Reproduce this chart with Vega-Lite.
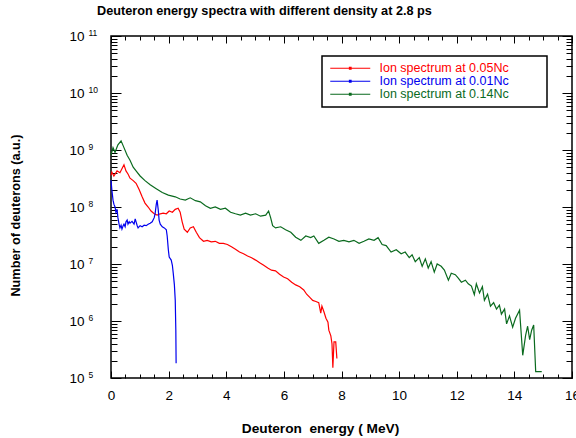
{
  "$schema": "https://vega.github.io/schema/vega-lite/v6.json",
  "autosize": {"type": "none"},
  "width": 461,
  "height": 342,
  "padding": {"left": 111, "top": 36, "right": 4, "bottom": 60},
  "background": "white",
  "title": {"text": "Deuteron energy spectra with different density at 2.8 ps", "anchor": "start", "frame": "group", "dx": -14, "dy": -6, "fontSize": 12.7, "fontWeight": "bold", "font": "Liberation Sans", "color": "black"},
  "config": {
    "font": "Liberation Sans",
    "view": {"stroke": "black", "strokeWidth": 1.5},
    "axis": {"domain": false, "grid": false, "tickColor": "black", "labelColor": "black", "titleColor": "black", "tickWidth": 1, "labelOverlap": false, "labelFlush": false, "labelBound": false}
  },
  "data": {"values": [
    {"series":"0.14Nc","energy":0.00,"count":8.1e8},{"series":"0.14Nc","energy":0.07,"count":1.10e9},{"series":"0.14Nc","energy":0.14,"count":9.1e8},{"series":"0.14Nc","energy":0.24,"count":1.23e9},{"series":"0.14Nc","energy":0.35,"count":1.45e9},{"series":"0.14Nc","energy":0.45,"count":1.10e9},{"series":"0.14Nc","energy":0.56,"count":8.1e8},{"series":"0.14Nc","energy":0.66,"count":6.6e8},{"series":"0.14Nc","energy":0.77,"count":5.0e8},{"series":"0.14Nc","energy":0.87,"count":4.3e8},{"series":"0.14Nc","energy":1.01,"count":3.5e8},{"series":"0.14Nc","energy":1.18,"count":2.9e8},{"series":"0.14Nc","energy":1.36,"count":2.45e8},{"series":"0.14Nc","energy":1.57,"count":2.1e8},{"series":"0.14Nc","energy":1.78,"count":1.8e8},{"series":"0.14Nc","energy":1.99,"count":1.62e8},{"series":"0.14Nc","energy":2.23,"count":1.51e8},{"series":"0.14Nc","energy":2.40,"count":1.38e8},{"series":"0.14Nc","energy":2.58,"count":1.32e8},{"series":"0.14Nc","energy":2.75,"count":1.45e8},{"series":"0.14Nc","energy":2.93,"count":1.29e8},{"series":"0.14Nc","energy":3.10,"count":1.23e8},{"series":"0.14Nc","energy":3.28,"count":1.05e8},{"series":"0.14Nc","energy":3.45,"count":9.5e7},{"series":"0.14Nc","energy":3.62,"count":1.0e8},{"series":"0.14Nc","energy":3.80,"count":9.1e7},{"series":"0.14Nc","energy":3.97,"count":9.5e7},{"series":"0.14Nc","energy":4.15,"count":8.1e7},{"series":"0.14Nc","energy":4.32,"count":7.6e7},{"series":"0.14Nc","energy":4.49,"count":7.2e7},{"series":"0.14Nc","energy":4.67,"count":7.8e7},{"series":"0.14Nc","energy":4.84,"count":7.2e7},{"series":"0.14Nc","energy":5.02,"count":7.6e7},{"series":"0.14Nc","energy":5.19,"count":6.9e7},{"series":"0.14Nc","energy":5.37,"count":7.2e7},{"series":"0.14Nc","energy":5.47,"count":8.5e7},{"series":"0.14Nc","energy":5.54,"count":6.5e7},{"series":"0.14Nc","energy":5.61,"count":4.7e7},{"series":"0.14Nc","energy":5.71,"count":4.3e7},{"series":"0.14Nc","energy":5.89,"count":4.5e7},{"series":"0.14Nc","energy":6.06,"count":4.0e7},{"series":"0.14Nc","energy":6.24,"count":3.6e7},{"series":"0.14Nc","energy":6.41,"count":2.95e7},{"series":"0.14Nc","energy":6.59,"count":2.6e7},{"series":"0.14Nc","energy":6.76,"count":3.1e7},{"series":"0.14Nc","energy":6.93,"count":2.9e7},{"series":"0.14Nc","energy":7.04,"count":3.1e7},{"series":"0.14Nc","energy":7.21,"count":2.3e7},{"series":"0.14Nc","energy":7.39,"count":2.6e7},{"series":"0.14Nc","energy":7.56,"count":2.95e7},{"series":"0.14Nc","energy":7.74,"count":2.75e7},{"series":"0.14Nc","energy":7.91,"count":2.5e7},{"series":"0.14Nc","energy":8.08,"count":2.6e7},{"series":"0.14Nc","energy":8.26,"count":2.45e7},{"series":"0.14Nc","energy":8.43,"count":2.6e7},{"series":"0.14Nc","energy":8.61,"count":2.3e7},{"series":"0.14Nc","energy":8.78,"count":2.5e7},{"series":"0.14Nc","energy":8.95,"count":2.75e7},{"series":"0.14Nc","energy":9.13,"count":2.6e7},{"series":"0.14Nc","energy":9.27,"count":2.9e7},{"series":"0.14Nc","energy":9.41,"count":2.2e7},{"series":"0.14Nc","energy":9.55,"count":2.1e7},{"series":"0.14Nc","energy":9.72,"count":1.62e7},{"series":"0.14Nc","energy":9.90,"count":1.78e7},{"series":"0.14Nc","energy":10.07,"count":1.51e7},{"series":"0.14Nc","energy":10.21,"count":1.62e7},{"series":"0.14Nc","energy":10.35,"count":1.29e7},{"series":"0.14Nc","energy":10.45,"count":1.45e7},{"series":"0.14Nc","energy":10.56,"count":1.10e7},{"series":"0.14Nc","energy":10.70,"count":1.29e7},{"series":"0.14Nc","energy":10.80,"count":9.1e6},{"series":"0.14Nc","energy":10.91,"count":1.23e7},{"series":"0.14Nc","energy":11.01,"count":8.5e6},{"series":"0.14Nc","energy":11.11,"count":1.10e7},{"series":"0.14Nc","energy":11.22,"count":7.2e6},{"series":"0.14Nc","energy":11.32,"count":1.0e7},{"series":"0.14Nc","energy":11.46,"count":9.1e6},{"series":"0.14Nc","energy":11.57,"count":7.8e6},{"series":"0.14Nc","energy":11.71,"count":5.2e6},{"series":"0.14Nc","energy":11.81,"count":6.9e6},{"series":"0.14Nc","energy":11.95,"count":6.5e6},{"series":"0.14Nc","energy":12.06,"count":5.6e6},{"series":"0.14Nc","energy":12.16,"count":4.8e6},{"series":"0.14Nc","energy":12.30,"count":5.2e6},{"series":"0.14Nc","energy":12.40,"count":4.5e6},{"series":"0.14Nc","energy":12.51,"count":4.1e6},{"series":"0.14Nc","energy":12.61,"count":2.9e6},{"series":"0.14Nc","energy":12.68,"count":4.5e6},{"series":"0.14Nc","energy":12.79,"count":3.1e6},{"series":"0.14Nc","energy":12.89,"count":4.0e6},{"series":"0.14Nc","energy":12.96,"count":2.3e6},{"series":"0.14Nc","energy":13.07,"count":2.95e6},{"series":"0.14Nc","energy":13.17,"count":1.82e6},{"series":"0.14Nc","energy":13.28,"count":2.1e6},{"series":"0.14Nc","energy":13.38,"count":1.62e6},{"series":"0.14Nc","energy":13.48,"count":1.9e6},{"series":"0.14Nc","energy":13.55,"count":1.32e6},{"series":"0.14Nc","energy":13.66,"count":1.62e6},{"series":"0.14Nc","energy":13.73,"count":8.9e5},{"series":"0.14Nc","energy":13.83,"count":1.23e6},{"series":"0.14Nc","energy":13.94,"count":7.8e5},{"series":"0.14Nc","energy":14.04,"count":1.12e6},{"series":"0.14Nc","energy":14.18,"count":1.55e6},{"series":"0.14Nc","energy":14.29,"count":2.5e5},{"series":"0.14Nc","energy":14.39,"count":5.6e5},{"series":"0.14Nc","energy":14.46,"count":8.1e5},{"series":"0.14Nc","energy":14.53,"count":4.7e5},{"series":"0.14Nc","energy":14.60,"count":6.9e5},{"series":"0.14Nc","energy":14.67,"count":8.5e5},{"series":"0.14Nc","energy":14.74,"count":1.29e5},{"series":"0.14Nc","energy":14.95,"count":1.29e5},
    {"series":"0.05Nc","energy":0.00,"count":3.6e8},{"series":"0.05Nc","energy":0.03,"count":4.1e8},{"series":"0.05Nc","energy":0.10,"count":3.5e8},{"series":"0.05Nc","energy":0.21,"count":4.3e8},{"series":"0.05Nc","energy":0.31,"count":4.0e8},{"series":"0.05Nc","energy":0.38,"count":4.7e8},{"series":"0.05Nc","energy":0.45,"count":5.5e8},{"series":"0.05Nc","energy":0.52,"count":4.3e8},{"series":"0.05Nc","energy":0.59,"count":3.8e8},{"series":"0.05Nc","energy":0.66,"count":3.2e8},{"series":"0.05Nc","energy":0.77,"count":2.9e8},{"series":"0.05Nc","energy":0.87,"count":2.6e8},{"series":"0.05Nc","energy":0.98,"count":2.0e8},{"series":"0.05Nc","energy":1.08,"count":1.51e8},{"series":"0.05Nc","energy":1.18,"count":1.17e8},{"series":"0.05Nc","energy":1.29,"count":1.0e8},{"series":"0.05Nc","energy":1.39,"count":8.5e7},{"series":"0.05Nc","energy":1.50,"count":7.6e7},{"series":"0.05Nc","energy":1.60,"count":7.2e7},{"series":"0.05Nc","energy":1.71,"count":7.6e7},{"series":"0.05Nc","energy":1.81,"count":7.8e7},{"series":"0.05Nc","energy":1.92,"count":7.6e7},{"series":"0.05Nc","energy":2.02,"count":8.5e7},{"series":"0.05Nc","energy":2.13,"count":8.1e7},{"series":"0.05Nc","energy":2.23,"count":9.1e7},{"series":"0.05Nc","energy":2.33,"count":9.5e7},{"series":"0.05Nc","energy":2.40,"count":8.1e7},{"series":"0.05Nc","energy":2.47,"count":5.5e7},{"series":"0.05Nc","energy":2.54,"count":4.1e7},{"series":"0.05Nc","energy":2.65,"count":3.6e7},{"series":"0.05Nc","energy":2.75,"count":4.3e7},{"series":"0.05Nc","energy":2.86,"count":4.5e7},{"series":"0.05Nc","energy":2.96,"count":3.6e7},{"series":"0.05Nc","energy":3.07,"count":2.9e7},{"series":"0.05Nc","energy":3.21,"count":2.5e7},{"series":"0.05Nc","energy":3.34,"count":2.6e7},{"series":"0.05Nc","energy":3.48,"count":2.45e7},{"series":"0.05Nc","energy":3.62,"count":2.5e7},{"series":"0.05Nc","energy":3.76,"count":2.3e7},{"series":"0.05Nc","energy":3.90,"count":2.3e7},{"series":"0.05Nc","energy":4.04,"count":2.2e7},{"series":"0.05Nc","energy":4.18,"count":2.0e7},{"series":"0.05Nc","energy":4.32,"count":1.82e7},{"series":"0.05Nc","energy":4.46,"count":1.62e7},{"series":"0.05Nc","energy":4.60,"count":1.51e7},{"series":"0.05Nc","energy":4.74,"count":1.38e7},{"series":"0.05Nc","energy":4.88,"count":1.29e7},{"series":"0.05Nc","energy":5.02,"count":1.17e7},{"series":"0.05Nc","energy":5.16,"count":1.05e7},{"series":"0.05Nc","energy":5.30,"count":9.5e6},{"series":"0.05Nc","energy":5.44,"count":8.5e6},{"series":"0.05Nc","energy":5.57,"count":7.8e6},{"series":"0.05Nc","energy":5.71,"count":7.6e6},{"series":"0.05Nc","energy":5.85,"count":6.6e6},{"series":"0.05Nc","energy":5.99,"count":5.9e6},{"series":"0.05Nc","energy":6.13,"count":5.5e6},{"series":"0.05Nc","energy":6.27,"count":4.8e6},{"series":"0.05Nc","energy":6.41,"count":4.3e6},{"series":"0.05Nc","energy":6.55,"count":4.0e6},{"series":"0.05Nc","energy":6.69,"count":3.5e6},{"series":"0.05Nc","energy":6.79,"count":2.95e6},{"series":"0.05Nc","energy":6.90,"count":2.6e6},{"series":"0.05Nc","energy":7.00,"count":2.3e6},{"series":"0.05Nc","energy":7.11,"count":2.2e6},{"series":"0.05Nc","energy":7.21,"count":2.1e6},{"series":"0.05Nc","energy":7.28,"count":1.38e6},{"series":"0.05Nc","energy":7.32,"count":1.82e6},{"series":"0.05Nc","energy":7.39,"count":1.45e6},{"series":"0.05Nc","energy":7.46,"count":1.12e6},{"series":"0.05Nc","energy":7.53,"count":9.5e5},{"series":"0.05Nc","energy":7.56,"count":6.9e5},{"series":"0.05Nc","energy":7.63,"count":5.5e5},{"series":"0.05Nc","energy":7.67,"count":4.0e5},{"series":"0.05Nc","energy":7.70,"count":1.51e5},{"series":"0.05Nc","energy":7.74,"count":4.3e5},{"series":"0.05Nc","energy":7.80,"count":4.3e5},{"series":"0.05Nc","energy":7.84,"count":2.2e5},
    {"series":"0.01Nc","energy":0.00,"count":2.95e8},{"series":"0.01Nc","energy":0.03,"count":2.0e8},{"series":"0.01Nc","energy":0.07,"count":1.32e8},{"series":"0.01Nc","energy":0.10,"count":1.12e8},{"series":"0.01Nc","energy":0.14,"count":1.0e8},{"series":"0.01Nc","energy":0.17,"count":8.1e7},{"series":"0.01Nc","energy":0.21,"count":9.1e7},{"series":"0.01Nc","energy":0.24,"count":6.5e7},{"series":"0.01Nc","energy":0.28,"count":5.0e7},{"series":"0.01Nc","energy":0.31,"count":4.3e7},{"series":"0.01Nc","energy":0.35,"count":4.8e7},{"series":"0.01Nc","energy":0.38,"count":4.1e7},{"series":"0.01Nc","energy":0.42,"count":4.7e7},{"series":"0.01Nc","energy":0.45,"count":5.0e7},{"series":"0.01Nc","energy":0.49,"count":4.5e7},{"series":"0.01Nc","energy":0.52,"count":5.5e7},{"series":"0.01Nc","energy":0.56,"count":5.9e7},{"series":"0.01Nc","energy":0.59,"count":5.0e7},{"series":"0.01Nc","energy":0.63,"count":5.5e7},{"series":"0.01Nc","energy":0.66,"count":5.2e7},{"series":"0.01Nc","energy":0.73,"count":5.6e7},{"series":"0.01Nc","energy":0.80,"count":5.0e7},{"series":"0.01Nc","energy":0.84,"count":6.2e7},{"series":"0.01Nc","energy":0.87,"count":5.5e7},{"series":"0.01Nc","energy":0.91,"count":4.7e7},{"series":"0.01Nc","energy":0.94,"count":4.3e7},{"series":"0.01Nc","energy":1.01,"count":4.7e7},{"series":"0.01Nc","energy":1.08,"count":4.5e7},{"series":"0.01Nc","energy":1.15,"count":4.8e7},{"series":"0.01Nc","energy":1.22,"count":4.7e7},{"series":"0.01Nc","energy":1.29,"count":5.0e7},{"series":"0.01Nc","energy":1.36,"count":5.2e7},{"series":"0.01Nc","energy":1.43,"count":5.5e7},{"series":"0.01Nc","energy":1.50,"count":6.5e7},{"series":"0.01Nc","energy":1.53,"count":7.6e7},{"series":"0.01Nc","energy":1.57,"count":1.10e8},{"series":"0.01Nc","energy":1.60,"count":1.32e8},{"series":"0.01Nc","energy":1.64,"count":8.9e7},{"series":"0.01Nc","energy":1.67,"count":5.9e7},{"series":"0.01Nc","energy":1.71,"count":5.0e7},{"series":"0.01Nc","energy":1.78,"count":4.5e7},{"series":"0.01Nc","energy":1.85,"count":4.3e7},{"series":"0.01Nc","energy":1.92,"count":4.0e7},{"series":"0.01Nc","energy":1.95,"count":3.1e7},{"series":"0.01Nc","energy":1.99,"count":1.78e7},{"series":"0.01Nc","energy":2.02,"count":1.32e7},{"series":"0.01Nc","energy":2.09,"count":1.17e7},{"series":"0.01Nc","energy":2.13,"count":9.5e6},{"series":"0.01Nc","energy":2.16,"count":6.9e6},{"series":"0.01Nc","energy":2.20,"count":4.3e6},{"series":"0.01Nc","energy":2.23,"count":2.3e6},{"series":"0.01Nc","energy":2.25,"count":6.9e5},{"series":"0.01Nc","energy":2.26,"count":1.82e5}
  ]},
  "layer": [
    {
      "mark": {"type": "line", "strokeWidth": 1.2},
      "encoding": {
        "x": {"field": "energy", "type": "quantitative",
          "scale": {"domain": [0, 16], "nice": false, "zero": false},
          "axis": {"orient": "bottom", "title": "Deuteron\u00a0 energy ( MeV)", "titleFontSize": 13.7, "titleFontWeight": "bold", "titleX": 209, "titleY": 50, "titleBaseline": "middle", "titleAnchor": "middle",
            "values": [0,0.5,1,1.5,2,2.5,3,3.5,4,4.5,5,5.5,6,6.5,7,7.5,8,8.5,9,9.5,10,10.5,11,11.5,12,12.5,13,13.5,14,14.5,15,15.5,16],
            "tickSize": {"condition": {"test": "datum.value % 2 == 0", "value": -7}, "value": -4},
            "labelExpr": "datum.value % 2 == 0 ? '' + datum.value : ''",
            "labelFontSize": 13.5, "labelPadding": 17}},
        "y": {"field": "count", "type": "quantitative",
          "scale": {"type": "log", "domain": [1e5, 1e11], "nice": false},
          "axis": {"orient": "left", "title": "Number of deuterons (a.u.)", "titleFontSize": 12.7, "titleFontWeight": "bold", "titleX": -96, "titleY": 179, "titleBaseline": "middle", "titleAnchor": "middle",
            "values": [1e5,2e5,3e5,4e5,5e5,6e5,7e5,8e5,9e5,1e6,2e6,3e6,4e6,5e6,6e6,7e6,8e6,9e6,1e7,2e7,3e7,4e7,5e7,6e7,7e7,8e7,9e7,1e8,2e8,3e8,4e8,5e8,6e8,7e8,8e8,9e8,1e9,2e9,3e9,4e9,5e9,6e9,7e9,8e9,9e9,1e10,2e10,3e10,4e10,5e10,6e10,7e10,8e10,9e10,1e11],
            "tickSize": {"condition": {"test": "abs(log(datum.value)/LN10 - round(log(datum.value)/LN10)) < 0.01", "value": -10}, "value": -6},
            "labelExpr": "abs(log(datum.value)/LN10 - round(log(datum.value)/LN10)) < 0.01 ? '10' : ''",
            "labelFontSize": 13.5, "labelPadding": 37}},
        "color": {"field": "series", "type": "nominal",
          "scale": {"domain": ["0.05Nc", "0.01Nc", "0.14Nc"], "range": ["#ff0000", "#0000ee", "#0a6a1e"]},
          "legend": {"orient": "none", "legendX": 211, "legendY": 20, "title": null, "strokeColor": "black", "fillColor": "white", "padding": 6,
            "symbolType": "M-1,0H9M3.8,-0.2H4.2V0.2H3.8ZM51,0", "symbolSize": 64, "symbolStrokeWidth": 1.2, "labelFontSize": 12.5, "labelOffset": 39, "labelLimit": 400, "rowPadding": -1.5,
            "labelExpr": "'Ion spectrum at ' + datum.label",
            "encode": {"labels": {"update": {"fill": {"scale": "color", "field": "value"}}}, "legend": {"update": {"strokeWidth": {"value": 1.5}}}}}}
      }
    },
    {
      "transform": [{"filter": "false"}],
      "mark": {"type": "line"},
      "encoding": {
        "x": {"field": "energy", "type": "quantitative",
          "scale": {"domain": [0, 16], "nice": false, "zero": false},
          "axis": {"orient": "top", "title": null, "labels": false,
            "values": [0,0.5,1,1.5,2,2.5,3,3.5,4,4.5,5,5.5,6,6.5,7,7.5,8,8.5,9,9.5,10,10.5,11,11.5,12,12.5,13,13.5,14,14.5,15,15.5,16],
            "tickSize": {"condition": {"test": "datum.value % 2 == 0", "value": -7}, "value": -4}}},
        "y": {"field": "count", "type": "quantitative",
          "scale": {"type": "log", "domain": [1e5, 1e11], "nice": false},
          "axis": {"orient": "right", "title": null, "labels": false,
            "values": [1e5,2e5,3e5,4e5,5e5,6e5,7e5,8e5,9e5,1e6,2e6,3e6,4e6,5e6,6e6,7e6,8e6,9e6,1e7,2e7,3e7,4e7,5e7,6e7,7e7,8e7,9e7,1e8,2e8,3e8,4e8,5e8,6e8,7e8,8e8,9e8,1e9,2e9,3e9,4e9,5e9,6e9,7e9,8e9,9e9,1e10,2e10,3e10,4e10,5e10,6e10,7e10,8e10,9e10,1e11],
            "tickSize": {"condition": {"test": "abs(log(datum.value)/LN10 - round(log(datum.value)/LN10)) < 0.01", "value": -10}, "value": -6}}}
      }
    },
    {
      "transform": [{"filter": "false"}],
      "mark": {"type": "line"},
      "encoding": {
        "x": {"field": "energy", "type": "quantitative",
          "scale": {"domain": [0, 16], "nice": false, "zero": false},
          "axis": null},
        "y": {"field": "count", "type": "quantitative",
          "scale": {"type": "log", "domain": [1e5, 1e11], "nice": false},
          "axis": {"orient": "left", "title": null, "ticks": false, "tickSize": 0,
            "values": [1e5, 1e6, 1e7, 1e8, 1e9, 1e10, 1e11],
            "labelExpr": "'' + round(log(datum.value)/LN10)",
            "labelAlign": "left", "labelPadding": 23, "labelOffset": -4, "labelFontSize": 8.5}}
      }
    }
  ],
  "resolve": {"axis": {"x": "independent", "y": "independent"}}
}
